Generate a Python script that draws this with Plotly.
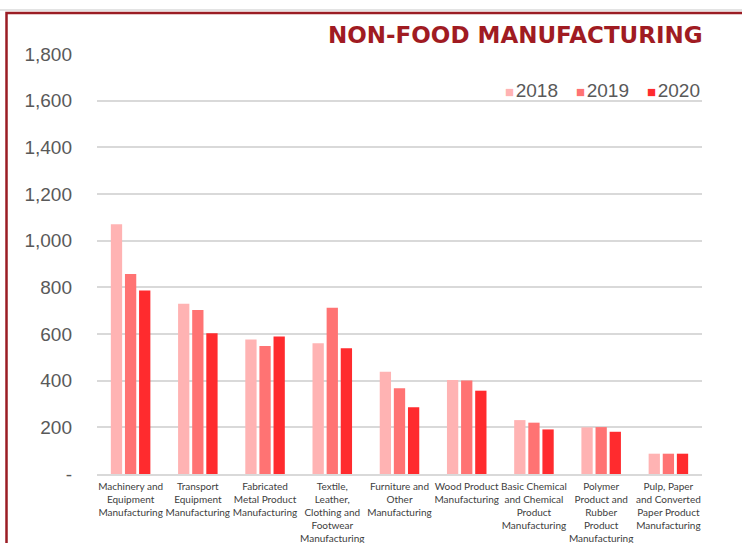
import plotly.graph_objects as go

categories = [
    "Machinery and<br>Equipment<br>Manufacturing",
    "Transport<br>Equipment<br>Manufacturing",
    "Fabricated<br>Metal Product<br>Manufacturing",
    "Textile,<br>Leather,<br>Clothing and<br>Footwear<br>Manufacturing",
    "Furniture and<br>Other<br>Manufacturing",
    "Wood Product<br>Manufacturing",
    "Basic Chemical<br>and Chemical<br>Product<br>Manufacturing",
    "Polymer<br>Product and<br>Rubber<br>Product<br>Manufacturing",
    "Pulp, Paper<br>and Converted<br>Paper Product<br>Manufacturing",
]
values_2018 = [1070, 730, 576, 560, 438, 403, 231, 200, 87]
values_2019 = [857, 703, 549, 713, 367, 401, 220, 201, 87]
values_2020 = [786, 603, 589, 539, 286, 357, 191, 181, 87]
series_names = ["2018", "2019", "2020"]
series_colors = ["#FFB3B3", "#FF7373", "#FF2B2E"]
y_tickvals = [0, 200, 400, 600, 800, 1000, 1200, 1400, 1600, 1800]
y_ticktext = ["-", "200", "400", "600", "800", "1,000", "1,200", "1,400", "1,600", "1,800"]
title_text = "NON-FOOD MANUFACTURING"

fig = go.Figure()
for name, vals, col in zip(series_names, [values_2018, values_2019, values_2020], series_colors):
    fig.add_trace(go.Bar(x=categories, y=vals, name=name, showlegend=False,
                         marker=dict(color=col, line=dict(width=0))))

W, H = 742, 543
ml, mr, mt, mb = 97, 40, 54, 69
pw, ph = W - ml - mr, H - mt - mb

def px2x(px):
    return (px - ml) / pw

def py2y(py):
    return (H - mb - py) / ph

# legend drawn as text entries (coloured square + year)
legend_x_px = [503, 574, 645]
annotations = [dict(text="<b>" + title_text + "</b>", xref="paper", yref="paper",
                    x=px2x(705), y=py2y(35), xanchor="right", yanchor="middle", showarrow=False,
                    font=dict(family="DejaVu Sans", size=23, color="#A01B22"))]
for name, col, lx in zip(series_names, series_colors, legend_x_px):
    annotations.append(dict(
        text=f"<span style='color:{col};font-size:15px'>■</span><span style='font-size:6px'> </span>{name}",
        xref="paper", yref="paper", x=px2x(lx), y=py2y(90), xanchor="left", yanchor="middle",
        showarrow=False, font=dict(family="Liberation Sans, Arial", size=19, color="#595959")))

fig.update_layout(
    width=W, height=H,
    margin=dict(l=ml, r=mr, t=mt, b=mb, autoexpand=False),
    paper_bgcolor="white", plot_bgcolor="white",
    barmode="group", bargap=0.37, bargroupgap=0.2,
    font=dict(family="Liberation Sans, Arial", color="#595959"),
    showlegend=False,
    xaxis=dict(showgrid=False, tickfont=dict(family="Lato, Liberation Sans", size=10, color="#404040"),
               ticks="", automargin=False, showline=True, linecolor="#D9D9D9", linewidth=1.5,
               tickangle=0, ticklabelstandoff=2),
    yaxis=dict(range=[0, 1800], tickvals=y_tickvals, ticktext=y_ticktext,
               tickfont=dict(size=19, color="#595959"), gridcolor="#D9D9D9", gridwidth=1.5,
               zeroline=False, showline=False, ticks="", ticklabelstandoff=24, automargin=False),
    annotations=annotations,
    shapes=[
        dict(type="line", xref="paper", yref="paper", x0=px2x(0), x1=px2x(742), y0=py2y(10), y1=py2y(10),
             line=dict(color="#E3E3E3", width=2), layer="below"),
        dict(type="rect", xref="paper", yref="paper", x0=px2x(6.5), x1=px2x(760), y0=py2y(560), y1=py2y(13),
             line=dict(color="#9B1D24", width=2.5), layer="above"),
    ],
)

fig.write_html("out.html", config={"displayModeBar": False},
               post_script="document.body.style.margin='0';")
